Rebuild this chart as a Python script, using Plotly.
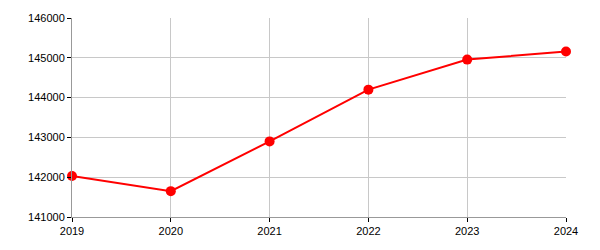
import plotly.graph_objects as go

years = [2019, 2020, 2021, 2022, 2023, 2024]
values = [142030, 141650, 142900, 144200, 144955, 145160]
y_ticks = [141000, 142000, 143000, 144000, 145000, 146000]

fig = go.Figure()
fig.add_trace(go.Scatter(
    x=years, y=values, mode="lines+markers",
    line=dict(color="#ff0000", width=2),
    marker=dict(color="#ff0000", size=10),
    cliponaxis=False,
))

fig.update_layout(
    width=600, height=250,
    margin=dict(l=72, r=34, t=15, b=33),
    paper_bgcolor="white", plot_bgcolor="white",
    font=dict(family="Liberation Sans, Arial", size=11, color="#000000"),
    showlegend=False,
)
fig.update_xaxes(
    range=[2019, 2024], tickvals=years, ticktext=[str(y) for y in years],
    showgrid=True, gridcolor="#c8c8c8", gridwidth=1,
    showline=True, linecolor="#999999", linewidth=1,
    ticks="outside", ticklen=4, tickcolor="#000000",
    zeroline=False,
)
fig.update_yaxes(
    range=[141000, 146000], tickvals=y_ticks, ticktext=[str(v) for v in y_ticks],
    showgrid=True, gridcolor="#c8c8c8", gridwidth=1,
    showline=True, linecolor="#999999", linewidth=1,
    ticks="outside", ticklen=4, tickcolor="#000000",
    zeroline=False,
)

fig.write_html("out.html")
